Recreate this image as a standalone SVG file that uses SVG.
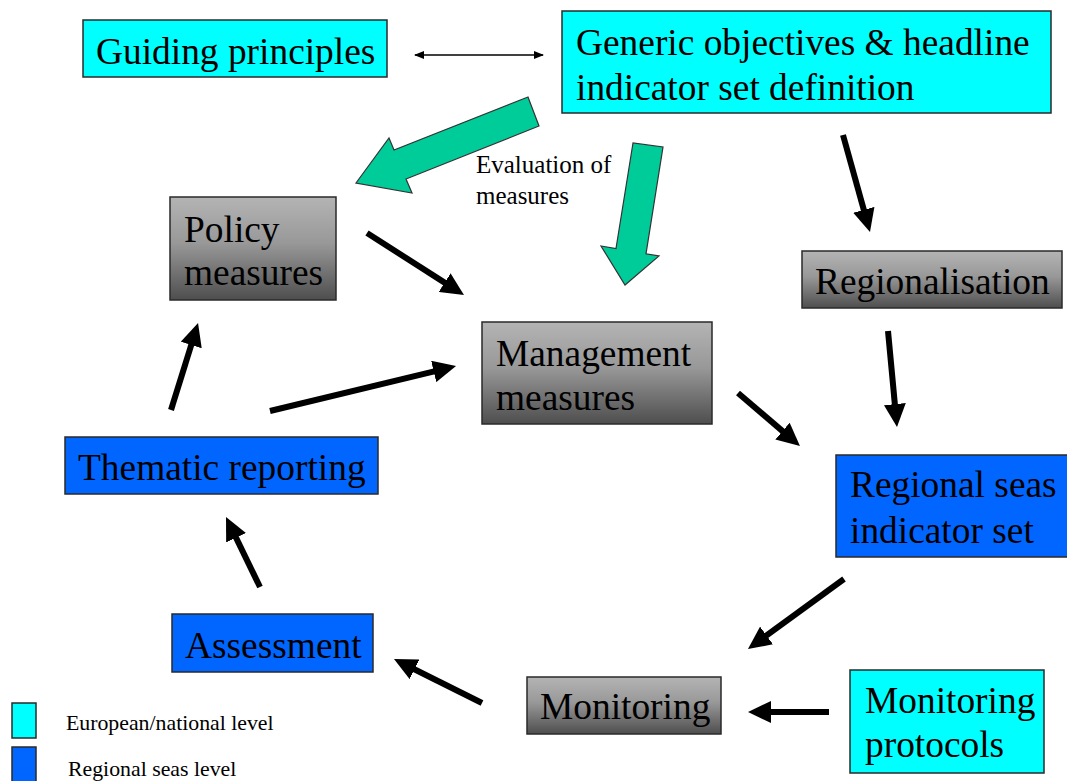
<svg xmlns="http://www.w3.org/2000/svg" width="1067" height="781" viewBox="0 0 1067 781">
  <style>
    .box { stroke: #2a2a2a; stroke-width: 1.5; }
    .cyan { fill: #00ffff; }
    .blue { fill: #0066ff; }
    .gray { fill: url(#grayGrad); }
    .lbl { font-family: "Liberation Serif", "Times New Roman", serif; font-size: 37.4px; fill: #000; }
    .small { font-family: "Liberation Serif", "Times New Roman", serif; font-size: 25px; fill: #000; }
    .legend { font-family: "Liberation Serif", "Times New Roman", serif; font-size: 21.8px; fill: #000; }
    .flow { stroke: #000; stroke-width: 6; fill: none; marker-end: url(#head); }
    .big { fill: #00cc99; stroke: #333; stroke-width: 1.2; }
  </style>
  <defs>
    <linearGradient id="grayGrad" x1="0" y1="0" x2="0" y2="1">
      <stop offset="0" stop-color="#b4b4b4"/>
      <stop offset="0.45" stop-color="#989898"/>
      <stop offset="1" stop-color="#4e4e4e"/>
    </linearGradient>
    <marker id="head" markerUnits="userSpaceOnUse" markerWidth="23" markerHeight="22" viewBox="0 0 23 22" refX="7" refY="11" orient="auto">
      <path d="M0,0 L23,11 L0,22 z" fill="#000"/>
    </marker>
    <marker id="thinHead" markerUnits="userSpaceOnUse" markerWidth="10" markerHeight="8" viewBox="0 0 10 8" refX="9" refY="4" orient="auto-start-reverse">
      <path d="M0,0 L10,4 L0,8 z" fill="#000"/>
    </marker>
  </defs>

  <rect width="1067" height="781" fill="#fff"/>

  <g id="connectors">
    <line x1="415" y1="55" x2="543" y2="55" stroke="#000" stroke-width="1.5" marker-start="url(#thinHead)" marker-end="url(#thinHead)"/>
    <polygon class="big" points="528,97 394,150 389,138 356,183 412,193 406,179 539,126"/>
    <polygon class="big" points="633,143 616,248.6 601,246 625,285 659,256 646,253.8 663,147"/>
    <line class="flow" x1="843" y1="135" x2="865.7" y2="216.6"/>
    <line class="flow" x1="888" y1="331" x2="895.5" y2="411.1"/>
    <line class="flow" x1="738" y1="393" x2="787.8" y2="435.6"/>
    <line class="flow" x1="844" y1="579" x2="760.9" y2="639.6"/>
    <line class="flow" x1="829" y1="712" x2="764" y2="712"/>
    <line class="flow" x1="482" y1="703" x2="408.3" y2="666.2"/>
    <line class="flow" x1="260" y1="587" x2="233" y2="531.4"/>
    <line class="flow" x1="171" y1="410" x2="193.3" y2="338.3"/>
    <line class="flow" x1="270" y1="411" x2="440.5" y2="369.8"/>
    <line class="flow" x1="367" y1="233" x2="450.5" y2="286.4"/>
  </g>

  <g id="evaluation-label">
    <text class="small" x="476" y="173">Evaluation of</text>
    <text class="small" x="476" y="204">measures</text>
  </g>

  <g id="guiding-principles">
    <rect class="box cyan" x="83" y="20" width="304" height="57"/>
    <text class="lbl" x="96" y="64">Guiding principles</text>
  </g>

  <g id="generic-objectives">
    <rect class="box cyan" x="562" y="11" width="489" height="102"/>
    <text class="lbl" x="576" y="55">Generic objectives &amp; headline</text>
    <text class="lbl" x="576" y="100">indicator set definition</text>
  </g>

  <g id="policy-measures">
    <rect class="box gray" x="170" y="197" width="166" height="103"/>
    <text class="lbl" x="184" y="242">Policy</text>
    <text class="lbl" x="184" y="285">measures</text>
  </g>

  <g id="regionalisation">
    <rect class="box gray" x="802" y="251" width="260" height="57"/>
    <text class="lbl" x="815" y="294">Regionalisation</text>
  </g>

  <g id="management-measures">
    <rect class="box gray" x="482" y="322" width="230" height="102"/>
    <text class="lbl" x="496" y="366">Management</text>
    <text class="lbl" x="496" y="410">measures</text>
  </g>

  <g id="regional-seas-indicator-set">
    <rect class="box blue" x="836" y="455" width="240" height="102"/>
    <text class="lbl" x="850" y="497">Regional seas</text>
    <text class="lbl" x="850" y="543">indicator set</text>
  </g>

  <g id="thematic-reporting">
    <rect class="box blue" x="65" y="437" width="313" height="57"/>
    <text class="lbl" x="78" y="480">Thematic reporting</text>
  </g>

  <g id="assessment">
    <rect class="box blue" x="172" y="614" width="201" height="58"/>
    <text class="lbl" x="185" y="658">Assessment</text>
  </g>

  <g id="monitoring">
    <rect class="box gray" x="527" y="677" width="194" height="57"/>
    <text class="lbl" x="540" y="719">Monitoring</text>
  </g>

  <g id="monitoring-protocols">
    <rect class="box cyan" x="850" y="670" width="194" height="103"/>
    <text class="lbl" x="865" y="713">Monitoring</text>
    <text class="lbl" x="865" y="757">protocols</text>
  </g>

  <g id="legend">
    <rect class="box cyan" x="12" y="703" width="24" height="35"/>
    <rect class="box blue" x="12" y="747" width="24" height="40"/>
    <text class="legend" x="66" y="730">European/national level</text>
    <text class="legend" x="68" y="776">Regional seas level</text>
  </g>
</svg>
